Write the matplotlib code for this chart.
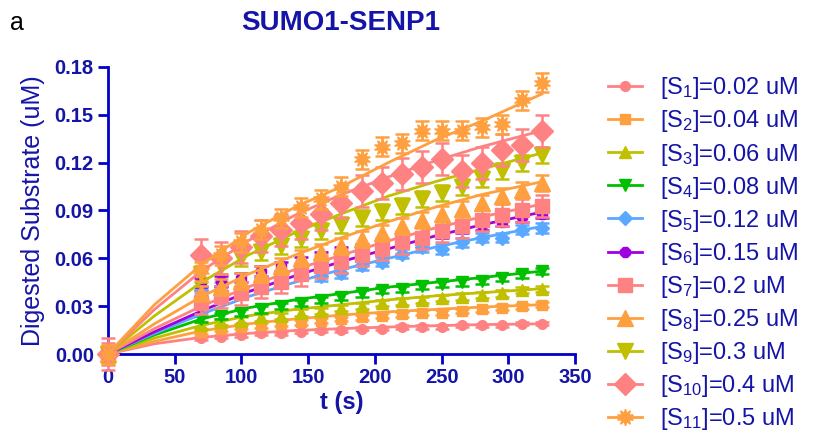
import matplotlib
matplotlib.use("Agg")
from matplotlib import pyplot as plt
from matplotlib.lines import Line2D

plt.rcParams['font.family'] = ['Liberation Sans', 'DejaVu Sans']
plt.rcParams['mathtext.fontset'] = 'custom'
plt.rcParams['mathtext.rm'] = 'Liberation Sans'
plt.rcParams['mathtext.it'] = 'Liberation Sans'

# time points (s)
t = [0, 70, 85, 100, 115, 130, 145, 160, 175, 190, 205, 220, 235, 250, 265, 280, 295, 310, 325]

# measured digested substrate (uM), one list per substrate concentration
s1 = [0, 0.010, 0.011, 0.012, 0.013, 0.013, 0.014, 0.015, 0.015, 0.016, 0.016, 0.017, 0.017, 0.017, 0.018, 0.018, 0.018, 0.019, 0.019]
s2 = [0, 0.014, 0.016, 0.017, 0.018, 0.019, 0.020, 0.021, 0.022, 0.023, 0.024, 0.025, 0.026, 0.026, 0.027, 0.028, 0.029, 0.030, 0.031]
s3 = [0, 0.018, 0.020, 0.021, 0.023, 0.024, 0.026, 0.027, 0.029, 0.030, 0.032, 0.033, 0.034, 0.035, 0.036, 0.037, 0.038, 0.040, 0.041]
s4 = [0, 0.022, 0.024, 0.026, 0.028, 0.030, 0.032, 0.034, 0.036, 0.038, 0.040, 0.041, 0.043, 0.044, 0.045, 0.046, 0.048, 0.050, 0.052]
s5 = [0, 0.040, 0.042, 0.040, 0.045, 0.046, 0.050, 0.049, 0.051, 0.056, 0.058, 0.063, 0.067, 0.066, 0.070, 0.073, 0.073, 0.078, 0.079]
s6 = [0, 0.045, 0.046, 0.048, 0.052, 0.055, 0.058, 0.061, 0.064, 0.066, 0.068, 0.071, 0.073, 0.076, 0.079, 0.081, 0.083, 0.086, 0.088]
s7 = [0, 0.032, 0.036, 0.038, 0.042, 0.045, 0.050, 0.055, 0.058, 0.062, 0.066, 0.070, 0.073, 0.077, 0.080, 0.084, 0.087, 0.090, 0.093]
s8 = [0, 0.038, 0.042, 0.046, 0.050, 0.055, 0.060, 0.064, 0.068, 0.072, 0.076, 0.080, 0.084, 0.088, 0.091, 0.095, 0.099, 0.103, 0.107]
s9 = [0, 0.050, 0.055, 0.060, 0.064, 0.068, 0.072, 0.077, 0.081, 0.085, 0.089, 0.093, 0.097, 0.101, 0.105, 0.110, 0.115, 0.120, 0.125]
s10 = [0, 0.062, 0.060, 0.067, 0.074, 0.078, 0.082, 0.088, 0.095, 0.102, 0.107, 0.113, 0.117, 0.122, 0.115, 0.120, 0.128, 0.131, 0.140]
s11 = [0, 0.052, 0.062, 0.070, 0.078, 0.085, 0.092, 0.097, 0.105, 0.122, 0.130, 0.132, 0.140, 0.140, 0.140, 0.142, 0.144, 0.159, 0.170]
series = [s1, s2, s3, s4, s5, s6, s7, s8, s9, s10, s11]

# error bar half-heights per series
errors = [0.001, 0.0015, 0.002, 0.002, 0.003, 0.003, 0.007, 0.005, 0.005, 0.010, 0.006]

# fitted curves
fit_t = [0, 35, 70, 105, 140, 175, 210, 245, 280, 325]
fit1 = [0, 0.0065, 0.0105, 0.013, 0.0148, 0.016, 0.017, 0.0178, 0.0185, 0.019]
fit2 = [0, 0.008, 0.0145, 0.019, 0.022, 0.0245, 0.0265, 0.028, 0.0295, 0.031]
fit3 = [0, 0.010, 0.018, 0.024, 0.028, 0.031, 0.034, 0.0365, 0.0385, 0.041]
fit4 = [0, 0.012, 0.022, 0.029, 0.034, 0.038, 0.042, 0.045, 0.048, 0.052]
fit5 = [0, 0.013, 0.025, 0.036, 0.045, 0.053, 0.060, 0.067, 0.073, 0.080]
fit6 = [0, 0.014, 0.027, 0.039, 0.049, 0.058, 0.066, 0.074, 0.081, 0.089]
fit7 = [0, 0.016, 0.030, 0.042, 0.053, 0.062, 0.071, 0.079, 0.086, 0.094]
fit8 = [0, 0.019, 0.036, 0.050, 0.062, 0.073, 0.083, 0.092, 0.100, 0.108]
fit9 = [0, 0.024, 0.045, 0.062, 0.076, 0.088, 0.099, 0.108, 0.116, 0.126]
fit10 = [0, 0.028, 0.052, 0.071, 0.087, 0.100, 0.111, 0.121, 0.130, 0.140]
fit11 = [0, 0.031, 0.056, 0.076, 0.092, 0.105, 0.120, 0.134, 0.146, 0.163]
fits = [fit1, fit2, fit3, fit4, fit5, fit6, fit7, fit8, fit9, fit10, fit11]

labels = ['[S$_{1}$]=0.02 uM', '[S$_{2}$]=0.04 uM', '[S$_{3}$]=0.06 uM',
          '[S$_{4}$]=0.08 uM', '[S$_{5}$]=0.12 uM', '[S$_{6}$]=0.15 uM',
          '[S$_{7}$]=0.2 uM', '[S$_{8}$]=0.25 uM', '[S$_{9}$]=0.3 uM',
          '[S$_{10}$]=0.4 uM', '[S$_{11}$]=0.5 uM']

pink = '#ff8282'
orange = '#ffa040'
olive = '#c0c000'
colors = [pink, orange, olive, '#00c000', '#5aa8ff', '#a000e0',
          pink, orange, olive, pink, orange]
markers = ['o', 's', '^', 'v', 'D', '8', 's', '^', 'v', 'D', (10, 1, 0)]
msizes = [7, 7, 8, 8, 7, 8, 10, 11, 11, 11, 12]

blue = '#0000c8'
text_blue = '#1414a8'

fig = plt.figure(figsize=(8.16, 4.34), dpi=100)
ax = fig.add_axes([0.132, 0.184, 0.573, 0.662])

for i in range(len(series)):
    ax.errorbar(t, series[i], yerr=errors[i], fmt='', marker=markers[i],
                linestyle='none', color=colors[i], ms=msizes[i], mec=colors[i],
                elinewidth=1.8, capsize=5, capthick=1.8, clip_on=False,
                zorder=3 + i)
    ax.plot(fit_t, fits[i], color=colors[i], lw=2, zorder=3 + i)

ax.set_xlim(0, 350)
ax.set_ylim(0, 0.18)
ax.set_xticks([0, 50, 100, 150, 200, 250, 300, 350])
ax.set_yticks([0, 0.03, 0.06, 0.09, 0.12, 0.15, 0.18])
ax.set_yticklabels(['0.00', '0.03', '0.06', '0.09', '0.12', '0.15', '0.18'])

for side in ['top', 'right']:
    ax.spines[side].set_visible(False)
for side in ['left', 'bottom']:
    ax.spines[side].set_color(blue)
    ax.spines[side].set_linewidth(2)
ax.tick_params(colors=blue, width=2, length=7, pad=3, direction='out',
               labelcolor=text_blue, labelsize=14.5)
for lbl in ax.get_xticklabels() + ax.get_yticklabels():
    lbl.set_fontweight('bold')

ax.set_xlabel('t (s)', fontsize=17, fontweight='bold', color=text_blue, labelpad=3)
ax.set_ylabel('Digested Substrate (uM)', fontsize=18, color=text_blue, labelpad=7)
fig.text(0.418, 0.947, 'SUMO1-SENP1', fontsize=20, fontweight='bold',
         color=text_blue, ha='center', va='center')
fig.text(0.012, 0.93, 'a', fontsize=18, color='black')

handles = []
for i in range(len(series)):
    handles.append(Line2D([], [], color=colors[i], marker=markers[i],
                          ms=msizes[i], lw=2))
leg = fig.legend(handles, labels, loc='upper left', bbox_to_anchor=(0.733, 0.848),
                 frameon=False, fontsize=17, labelspacing=0.3,
                 handlelength=1.45, handletextpad=0.75, borderaxespad=0)
for txt in leg.get_texts():
    txt.set_color(text_blue)

fig.savefig('out.png', dpi=100)
